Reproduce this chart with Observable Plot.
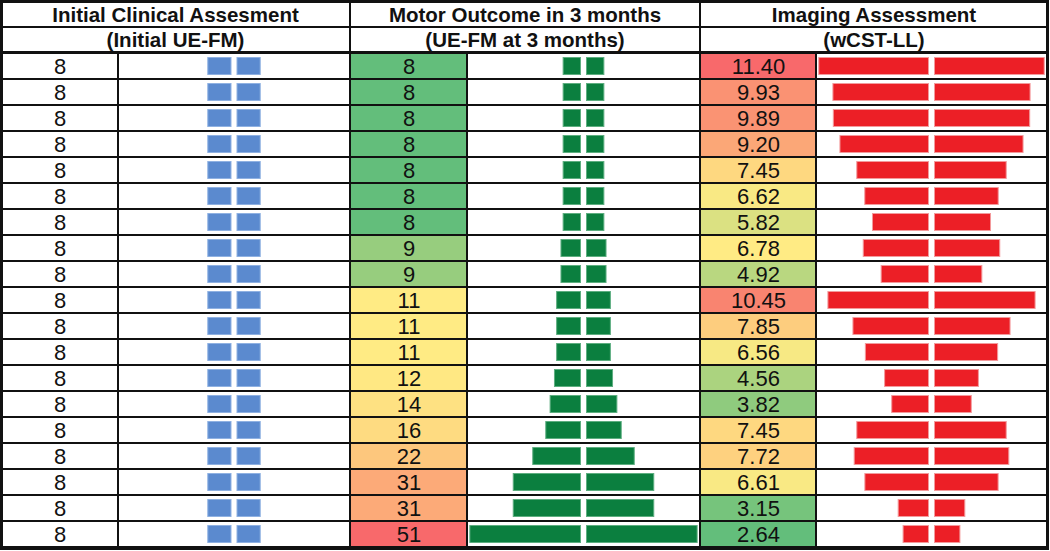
<!DOCTYPE html>
<html><head><meta charset="utf-8">
<script src="https://cdn.jsdelivr.net/npm/d3@7"></script>
<script src="https://cdn.jsdelivr.net/npm/@observablehq/plot@0.6"></script>
<style>
body{margin:0;background:#fff;}
#chart{position:relative;width:1050px;height:551px;background:#fff;font-family:"Liberation Sans",Arial,sans-serif;overflow:hidden;}
.hd{position:absolute;box-sizing:border-box;border:2px solid #111;font-weight:bold;font-size:20.5px;color:#111;display:flex;align-items:center;justify-content:center;white-space:nowrap;padding-top:1px;}
.pl{position:absolute;top:52px;}
.pl svg{overflow:visible;display:block;}
.frame{position:absolute;left:0;top:0;width:1049px;height:550px;box-sizing:border-box;border:3px solid #111;pointer-events:none;}
</style></head>
<body><div id="chart"></div>
<script>
// ---- data ----
const groupTitles = ["Initial Clinical Assesment", "Motor Outcome in 3 months", "Imaging Assessment"];
const groupSubtitles = ["(Initial UE-FM)", "(UE-FM at 3 months)", "(wCST-LL)"];
const initialFM = [8, 8, 8, 8, 8, 8, 8, 8, 8, 8, 8, 8, 8, 8, 8, 8, 8, 8, 8];
const fm3Months = [8, 8, 8, 8, 8, 8, 8, 9, 9, 11, 11, 11, 12, 14, 16, 22, 31, 31, 51];
const wcstLL = [11.40, 9.93, 9.89, 9.20, 7.45, 6.62, 5.82, 6.78, 4.92, 10.45, 7.85, 6.56, 4.56, 3.82, 7.45, 7.72, 6.61, 3.15, 2.64];
const scaleColors = ["#63BE7B", "#FFEB84", "#F8696B"];

const rowIds = d3.range(initialFM.length);
const chart = document.getElementById("chart");

// ---- header (HTML) ----
const groupBoxes = [[0, 351], [349, 701], [699, 1049]];
groupBoxes.forEach(([x0, x1], g) => {
  [[1, 28, groupTitles[g]], [26, 53, groupSubtitles[g]]].forEach(([y0, y1, t]) => {
    const d = document.createElement("div");
    d.className = "hd";
    d.style.left = x0 + "px"; d.style.width = (x1 - x0) + "px";
    d.style.top = y0 + "px"; d.style.height = (y1 - y0) + "px";
    d.textContent = t;
    chart.appendChild(d);
  });
});

const H = 495;
const yOpt = {axis: null, domain: rowIds, padding: 0};

function place(svg, left) {
  const w = document.createElement("div");
  w.className = "pl";
  w.style.left = left + "px";
  w.appendChild(svg);
  chart.appendChild(w);
}

function valuePlot(values, width, fmt, colored) {
  const rows = values.map((v, i) => ({i, v}));
  return Plot.plot({
    width, height: H, margin: 0,
    style: {fontFamily: "Liberation Sans, Arial, sans-serif", fontSize: "22px", background: "transparent"},
    y: yOpt,
    color: colored ? {type: "linear", domain: [d3.min(values), d3.median(values), d3.max(values)], range: scaleColors, interpolate: "rgb"} : undefined,
    marks: [
      Plot.cell(rows, {y: "i", fill: colored ? "v" : "white", stroke: "#111", strokeWidth: 2}),
      Plot.text(rows, {y: "i", text: d => fmt(d.v), fontSize: 22, fill: "#111", dy: 0.5})
    ]
  });
}

function barPlot(values, width, D, fill, edge) {
  const rows = values.map((v, i) => ({i, v}));
  const common = {y: "i", fill, stroke: edge, strokeWidth: 1, insetTop: 4.5, insetBottom: 4.5};
  return Plot.plot({
    width, height: H, margin: 0,
    style: {background: "transparent"},
    x: {axis: null, domain: [-D, D]},
    y: yOpt,
    marks: [
      Plot.cell(rows, {y: "i", fill: "white", stroke: "#111", strokeWidth: 2}),
      Plot.barX(rows, {...common, x1: d => -d.v, x2: 0, dx: -3}),
      Plot.barX(rows, {...common, x1: 0, x2: "v", dx: 3})
    ]
  });
}

const intFmt = d3.format("d");
const decFmt = d3.format(".2f");

place(valuePlot(initialFM, 117, intFmt, false), 1);
place(barPlot(initialFM, 232, 40, "#5B8ACF", "#8FB1E2"), 118);
place(valuePlot(fm3Months, 117, intFmt, true), 350);
place(barPlot(fm3Months, 233, 53.7, "#0B7F3F", "#5DAE80"), 467);
place(valuePlot(wcstLL, 116, decFmt, true), 700);
place(barPlot(wcstLL, 231, 12, "#EC1F26", "#F39A9C"), 816);

const fr = document.createElement("div");
fr.className = "frame";
chart.appendChild(fr);
</script>
</body></html>
